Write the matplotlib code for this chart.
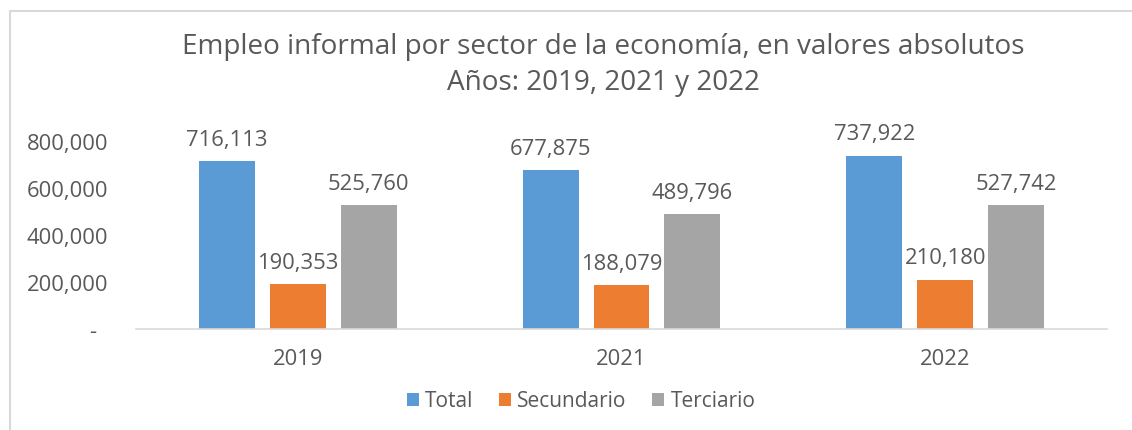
import matplotlib
matplotlib.use('Agg')
import matplotlib.pyplot as plt
from matplotlib.patches import Rectangle
from matplotlib.ticker import FuncFormatter
import numpy as np

years = ['2019', '2021', '2022']
series = ['Total', 'Secundario', 'Terciario']
total = [716113, 677875, 737922]
secundario = [190353, 188079, 210180]
terciario = [525760, 489796, 527742]
colors = ['#5B9BD5', '#ED7D31', '#A5A5A5']
yticks = [0, 200000, 400000, 600000, 800000]

txt = '#595959'
plt.rcParams['font.family'] = ['Open Sans', 'DejaVu Sans']

W, H = 1132, 431
fig = plt.figure(figsize=(W / 100, H / 100), dpi=100)
ax = fig.add_axes([136 / W, 1 - 330 / H, (1107 - 136) / W, (330 - 142) / H])

# outer chart frame (only left and top visible in the crop)
fig.patches.append(Rectangle((10 / W, -0.1), 1.2, 1 - 12 / H + 0.1,
                             transform=fig.transFigure, fill=False,
                             edgecolor='#D9D9D9', linewidth=1.5))

x = np.arange(len(years))
bw = 0.173
pitch = 0.219
for i, (name, vals) in enumerate(zip(series, [total, secundario, terciario])):
    pos = x + (i - 1) * pitch
    bars = ax.bar(pos, vals, width=bw, color=colors[i], label=name)
    for b, v in zip(bars, vals):
        ax.annotate(f'{v:,}', (b.get_x() + b.get_width() / 2, v),
                    xytext=(0, 8), textcoords='offset points',
                    ha='center', va='bottom', fontsize=15.8, color=txt)

ax.set_xlim(-0.5, 2.5)
ax.set_ylim(0, 800000)
ax.set_xticks(x)
ax.set_xticklabels(years)
ax.set_yticks(yticks)
ax.yaxis.set_major_formatter(FuncFormatter(lambda v, p: '-  ' if v == 0 else f'{int(v):,}'))
ax.tick_params(length=0, labelsize=15.8, labelcolor=txt)
ax.tick_params(axis='x', pad=14)
ax.tick_params(axis='y', pad=20)
for s in ['top', 'right', 'left']:
    ax.spines[s].set_visible(False)
ax.spines['bottom'].set_color('#D9D9D9')
ax.spines['bottom'].set_linewidth(1.2)

fig.text(603 / W, 1 - 47 / H, 'Empleo informal por sector de la economía, en valores absolutos',
         ha='center', va='center', fontsize=20.1, color=txt)
fig.text(603 / W, 1 - 83 / H, 'Años: 2019, 2021 y 2022',
         ha='center', va='center', fontsize=20.1, color=txt)

fig.legend(loc='center', bbox_to_anchor=(581 / W, 1 - 402 / H), ncol=3, frameon=False,
           fontsize=15, labelcolor=txt, handlelength=0.6, handleheight=0.6,
           handletextpad=0.3, columnspacing=1.2)

fig.savefig('out.png', dpi=100)
